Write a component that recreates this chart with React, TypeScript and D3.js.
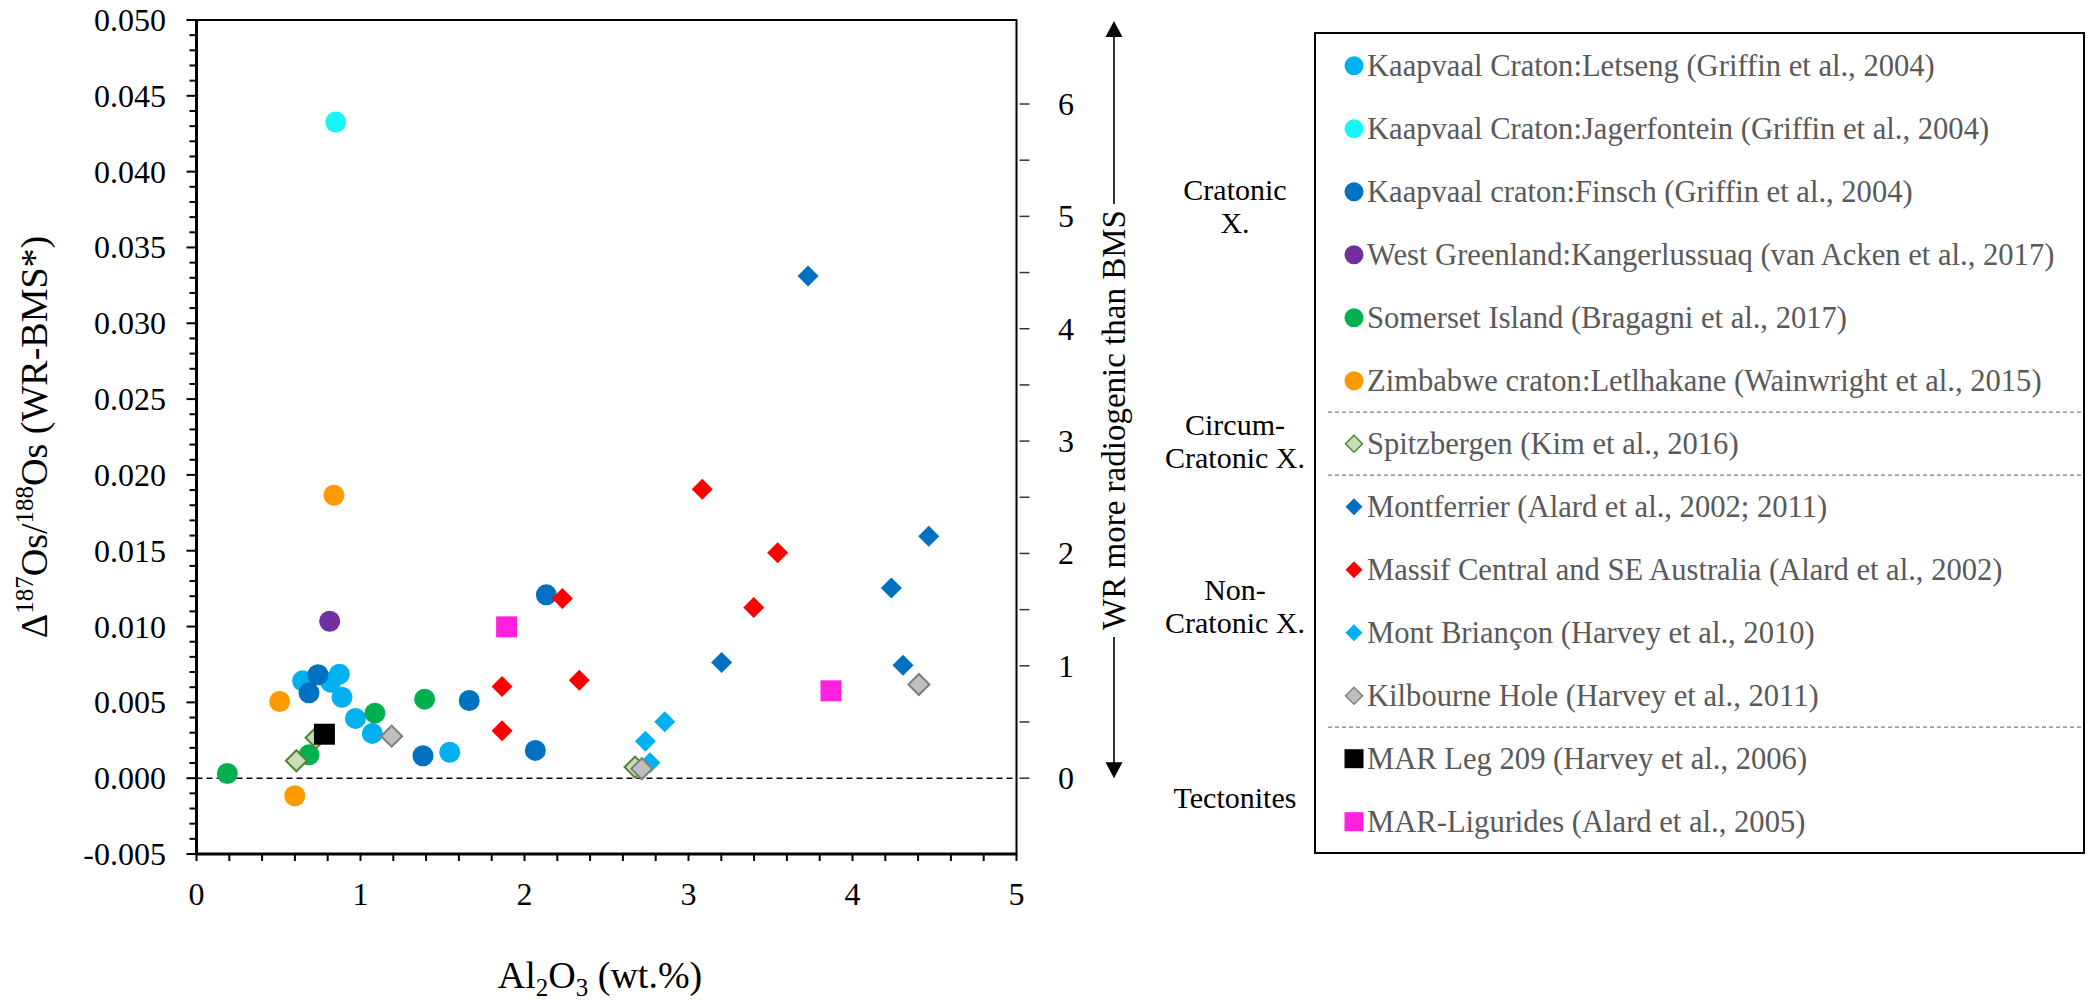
import * as d3 from "d3";

// Al2O3 (wt.%) and Δ187Os/188Os (WR-BMS*) per locality
const letsengAl = [0.647, 0.871, 0.818, 0.887, 0.969, 1.072, 1.544];
const letsengOs = [0.00642, 0.00686, 0.00633, 0.00534, 0.00394, 0.00295, 0.00171];
const jagersAl = [0.849];
const jagersOs = [0.04327];
const finschAl = [0.741, 0.686, 1.663, 1.381, 2.066, 2.133];
const finschOs = [0.00682, 0.00563, 0.00512, 0.00148, 0.00183, 0.01209];
const kangerAl = [0.812];
const kangerOs = [0.01035];
const somersetAl = [0.188, 0.686, 1.088, 1.391];
const somersetOs = [0.00031, 0.00154, 0.00429, 0.00521];
const letlhakaneAl = [0.838, 0.507, 0.599];
const letlhakaneOs = [0.01866, 0.00506, -0.00116];
const spitzAl = [0.609, 0.729, 2.674];
const spitzOs = [0.00115, 0.00266, 0.00073];
const montferrierAl = [3.729, 4.465, 4.237, 4.308, 3.202];
const montferrierOs = [0.03312, 0.01595, 0.01255, 0.00745, 0.00763];
const massifAl = [1.863, 1.863, 2.334, 2.231, 3.544, 3.398, 3.084];
const massifOs = [0.00604, 0.00312, 0.00646, 0.01185, 0.01486, 0.01125, 0.01905];
const brianconAl = [2.855, 2.737, 2.765];
const brianconOs = [0.00372, 0.00244, 0.00101];
const kilbourneAl = [1.19, 2.715, 4.405];
const kilbourneOs = [0.00277, 0.00062, 0.00618];
const marLegAl = [0.78];
const marLegOs = [0.0029];
const liguridesAl = [1.891, 3.869];
const liguridesOs = [0.00998, 0.00576];

const seriesNames = [
  "Kaapvaal Craton:Letseng (Griffin et al., 2004)",
  "Kaapvaal Craton:Jagerfontein (Griffin et al., 2004)",
  "Kaapvaal craton:Finsch (Griffin et al., 2004)",
  "West Greenland:Kangerlussuaq (van Acken et al., 2017)",
  "Somerset Island (Bragagni et al., 2017)",
  "Zimbabwe craton:Letlhakane (Wainwright et al., 2015)",
  "Spitzbergen (Kim et al., 2016)",
  "Montferrier (Alard et al., 2002; 2011)",
  "Massif Central and SE Australia (Alard et al., 2002)",
  "Mont Briançon (Harvey et al., 2010)",
  "Kilbourne Hole (Harvey et al., 2011)",
  "MAR Leg 209 (Harvey et al., 2006)",
  "MAR-Ligurides (Alard et al., 2005)",
];
const groupLabels = [
  { lines: ["Cratonic", "X."], y: 206 },
  { lines: ["Circum-", "Cratonic X."], y: 441 },
  { lines: ["Non-", "Cratonic X."], y: 606 },
  { lines: ["Tectonites"], y: 797 },
];
const separatorAfter = [5, 6, 10];

const xTicks = [0, 1, 2, 3, 4, 5];
const yTicks = [-0.005, 0, 0.005, 0.01, 0.015, 0.02, 0.025, 0.03, 0.035, 0.04, 0.045, 0.05];
const rightTicks = [0, 1, 2, 3, 4, 5, 6];

type Shape = "circle" | "diamond" | "square";
const series = [
  { al: letsengAl, os: letsengOs, shape: "circle", fill: "#00B0F0", stroke: "none" },
  { al: jagersAl, os: jagersOs, shape: "circle", fill: "#19F6F8", stroke: "none" },
  { al: finschAl, os: finschOs, shape: "circle", fill: "#0070C0", stroke: "none" },
  { al: kangerAl, os: kangerOs, shape: "circle", fill: "#7030A0", stroke: "none" },
  { al: somersetAl, os: somersetOs, shape: "circle", fill: "#00B050", stroke: "none" },
  { al: letlhakaneAl, os: letlhakaneOs, shape: "circle", fill: "#FF9900", stroke: "none" },
  { al: spitzAl, os: spitzOs, shape: "diamond", fill: "#C5E0B4", stroke: "#548235" },
  { al: montferrierAl, os: montferrierOs, shape: "diamond", fill: "#0070C0", stroke: "none" },
  { al: massifAl, os: massifOs, shape: "diamond", fill: "#FF0000", stroke: "none" },
  { al: brianconAl, os: brianconOs, shape: "diamond", fill: "#00B0F0", stroke: "none" },
  { al: kilbourneAl, os: kilbourneOs, shape: "diamond", fill: "#BFBFBF", stroke: "#7F7F7F" },
  { al: marLegAl, os: marLegOs, shape: "square", fill: "#000000", stroke: "none" },
  { al: liguridesAl, os: liguridesOs, shape: "square", fill: "#FF21DE", stroke: "none" },
].map((s, i) => ({ ...s, name: seriesNames[i] }));

const FONT = "'Liberation Serif', 'Times New Roman', serif";

function marker(shape: Shape, r: number) {
  if (shape === "circle") return d3.symbol(d3.symbolCircle, Math.PI * r * r)();
  if (shape === "square") return d3.symbol(d3.symbolSquare, 4 * r * r)();
  // rotated square, r = half diagonal
  return d3.symbol(d3.symbolSquare, 2 * r * r)();
}

export default function App() {
  const width = 2096;
  const height = 1000;
  const left = 196.5;
  const right = 1016.5;
  const top = 20;
  const bottom = 854;

  const x = d3.scaleLinear().domain([0, 5]).range([left, right]);
  const y = d3.scaleLinear().domain([-0.005, 0.05]).range([bottom, top]);
  const ratio = 0.00741;
  const yR = d3.scaleLinear().domain([-0.005 / ratio, 0.05 / ratio]).range([bottom, top]);

  const xMinor = d3.range(0, 5.001, 0.2);
  const yMinor = d3.range(-0.005, 0.0501, 0.001);
  const rMinor = d3.range(0, 6.01, 0.5);

  const legLeft = 1315;
  const legRight = 2084;
  const legTop = 33;
  const legBottom = 853;
  const rowY = (i: number) => 65.7 + 63 * i;
  const arrowX = 1114;

  return (
    <div style={{ position: "absolute", left: 0, top: 0 }}>
      <svg width={width} height={height} style={{ display: "block", background: "#fff" }} fontFamily={FONT}>
        {/* frame */}
        <rect x={left} y={top} width={right - left} height={bottom - top} fill="none" stroke="#000" strokeWidth={2} />
        <line x1={left} x2={left} y1={top} y2={bottom} stroke="#000" strokeWidth={3} />
        <line x1={left} x2={right} y1={bottom} y2={bottom} stroke="#000" strokeWidth={3} />

        {/* left axis */}
        {yMinor.map((t, i) => (
          <line key={"ym" + i} x1={left - (i % 5 === 0 ? 10 : 7)} x2={left} y1={y(t)} y2={y(t)} stroke="#000" strokeWidth={2} />
        ))}
        {yTicks.map((t) => (
          <text key={"yl" + t} x={166} y={y(t)} textAnchor="end" dominantBaseline="central" fontSize={32} fontFamily={FONT}>
            {t.toFixed(3)}
          </text>
        ))}

        {/* bottom axis */}
        {xMinor.map((t, i) => (
          <line key={"xm" + i} x1={x(t)} x2={x(t)} y1={bottom} y2={bottom + 7} stroke="#000" strokeWidth={2} />
        ))}
        {xTicks.map((t) => (
          <text key={"xl" + t} x={x(t)} y={894} textAnchor="middle" dominantBaseline="central" fontSize={32} fontFamily={FONT}>
            {t}
          </text>
        ))}

        {/* right axis */}
        {rMinor.map((t, i) => (
          <line key={"rm" + i} x1={right + 3} x2={right + 13} y1={yR(t)} y2={yR(t)} stroke="#333" strokeWidth={1.5} />
        ))}
        {rightTicks.map((t) => (
          <text key={"rl" + t} x={1066} y={yR(t)} textAnchor="middle" dominantBaseline="central" fontSize={32} fontFamily={FONT}>
            {t}
          </text>
        ))}

        {/* zero line */}
        <line x1={x(0)} x2={x(5)} y1={y(0)} y2={y(0)} stroke="#000" strokeWidth={1.5} strokeDasharray="6 4" />

        {/* axis titles */}
        <text transform={`translate(47, ${(top + bottom) / 2}) rotate(-90)`} textAnchor="middle" fontSize={38}>
          <tspan>Δ</tspan>
          <tspan dy={-14} fontSize={25}>187</tspan>
          <tspan dy={14}>Os/</tspan>
          <tspan dy={-14} fontSize={25}>188</tspan>
          <tspan dy={14}>Os (WR-BMS*)</tspan>
        </text>
        <text x={600} y={988} textAnchor="middle" fontSize={38}>
          <tspan>Al</tspan>
          <tspan dy={8} fontSize={25}>2</tspan>
          <tspan dy={-8}>O</tspan>
          <tspan dy={8} fontSize={25}>3</tspan>
          <tspan dy={-8}> (wt.%)</tspan>
        </text>

        {/* radiogenic arrow */}
        <line x1={arrowX} x2={arrowX} y1={yR.range()[1] + 14} y2={204} stroke="#000" strokeWidth={1.6} />
        <line x1={arrowX} x2={arrowX} y1={637} y2={yR(0) - 14} stroke="#000" strokeWidth={1.6} />
        <polygon points={`${arrowX},${top + 1} ${arrowX - 8.5},${top + 17} ${arrowX + 8.5},${top + 17}`} fill="#000" />
        <polygon points={`${arrowX},${yR(0)} ${arrowX - 8.5},${yR(0) - 16} ${arrowX + 8.5},${yR(0) - 16}`} fill="#000" />
        <text
          transform={`translate(${arrowX}, 420) rotate(-90)`}
          textAnchor="middle"
          dominantBaseline="central"
          fontSize={33}
        >
          WR more radiogenic than BMS
        </text>

        {/* data */}
        {series.map((s, si) =>
          s.al.map((a, i) => (
            <path
              key={si + "-" + i}
              d={marker(s.shape as Shape, 10.5) || ""}
              transform={`translate(${x(a)},${y(s.os[i])})${s.shape === "diamond" ? " rotate(45)" : ""}`}
              fill={s.fill}
              stroke={s.stroke}
              strokeWidth={s.stroke === "none" ? 0 : 2}
            />
          ))
        )}

        {/* legend */}
        <rect x={legLeft} y={legTop} width={legRight - legLeft} height={legBottom - legTop} fill="none" stroke="#000" strokeWidth={2} />
        {separatorAfter.map((i) => (
          <line
            key={"sep" + i}
            x1={1328}
            x2={legRight}
            y1={(rowY(i) + rowY(i + 1)) / 2}
            y2={(rowY(i) + rowY(i + 1)) / 2}
            stroke="#7F7F7F"
            strokeWidth={1.2}
            strokeDasharray="4 3"
          />
        ))}
        {series.map((s, i) => (
          <g key={"leg" + i} transform={`translate(0, ${rowY(i)})`}>
            <path
              d={marker(s.shape as Shape, s.shape === "diamond" ? 8.5 : 9.5) || ""}
              transform={`translate(1354, 0)${s.shape === "diamond" ? " rotate(45)" : ""}`}
              fill={s.fill}
              stroke={s.stroke}
              strokeWidth={s.stroke === "none" ? 0 : 1.5}
            />
            <text x={1367} y={0} dominantBaseline="central" fontSize={30.6} fill="#595959" fontFamily={FONT}>
              {s.name}
            </text>
          </g>
        ))}
        {groupLabels.map((g) => (
          <text key={g.lines[0]} x={1235} textAnchor="middle" fontSize={30} fill="#000" fontFamily={FONT}>
            {g.lines.map((l, j) => (
              <tspan key={j} x={1235} y={g.y + (j - (g.lines.length - 1) / 2) * 33} dominantBaseline="central">
                {l}
              </tspan>
            ))}
          </text>
        ))}
      </svg>
    </div>
  );
}
